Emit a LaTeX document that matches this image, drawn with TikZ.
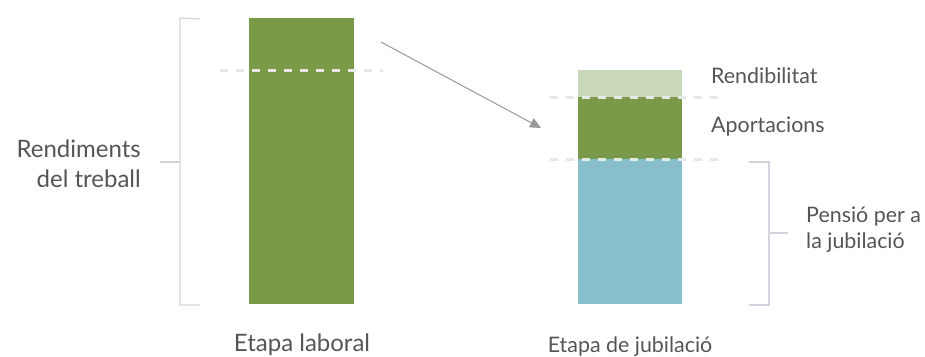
\documentclass[tikz,border=0pt]{standalone}
\usepackage{fontspec}
\setmainfont{Lato}
\usetikzlibrary{arrows.meta}
\definecolor{barverd}{RGB}{122,154,74}
\definecolor{barverdclar}{RGB}{201,216,184}
\definecolor{barblau}{RGB}{135,191,204}
\definecolor{clau}{RGB}{210,213,222}
\definecolor{textgris}{RGB}{85,85,85}
\definecolor{ratlla}{RGB}{232,232,232}
\begin{document}
\begin{tikzpicture}[x=1pt,y=-1pt,
  etiq/.style={text=textgris,font=\fontsize{21.4}{26}\selectfont,inner sep=0pt},
  separa/.style={ratlla,line width=3pt,dash pattern=on 8pt off 8pt},
  clauline/.style={clau,line width=1.2pt}]
\useasboundingbox (0,0) rectangle (925,356);
\pgfmathsetmacro{\kbot}{304}
\pgfmathsetmacro{\kwid}{105}
% etapa laboral
\fill[barverd] (249,18) rectangle ++(\kwid,\kbot-18);
\draw[separa] (220,70)--(383,70);
% etapa de jubilacio
\foreach \ktop/\kbase/\kcol in {70/97/barverdclar,97/159/barverd,159/304/barblau}{\fill[\kcol](578,\ktop)rectangle(682,\kbase);}
\foreach \ky in {97,159}{\draw[separa] (550,\ky)--(718,\ky);}
% claus
\draw[clauline] (200,19)--(180,18)--(180,305)--(200,305);
\draw[clauline] (160,162)--(180,162);
\draw[clauline] (749,162)--(769,162)--(769,305)--(749,305);
\draw[clauline] (769,233)--(788,233);
% fletxa
\coordinate (ini) at (381,42);
\coordinate (fi) at (541,128);
\draw[gray!80,line width=1pt,-{Triangle[length=11pt,width=10pt]}] (ini)--(fi);
% textos
\node[etiq,anchor=east,align=right,font=\fontsize{24}{30}\selectfont] (rend) at (141,164) {Rendiments\\del treball};
\node[etiq,anchor=west] (rendib) at (711,76) {Rendibilitat};
\node[etiq,anchor=west] (aport) at (711,127) {Aportacions};
\node[etiq,anchor=west,align=left] (pensio) at (806,230) {Pensió per a\\la jubilació};
\node[etiq,font=\fontsize{24}{28}\selectfont] (laboral) at (302,345) {Etapa laboral};
\node[etiq,font=\fontsize{21.4}{26}\selectfont] (jubil) at (630,347) {Etapa de jubilació};
\end{tikzpicture}
\end{document}
